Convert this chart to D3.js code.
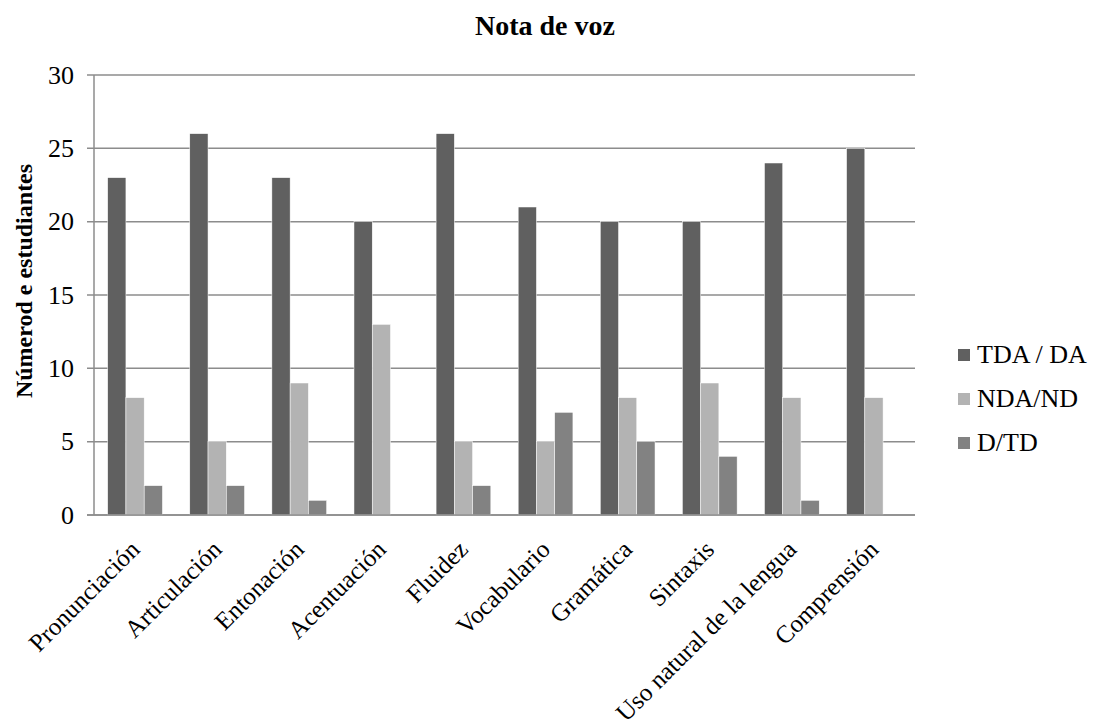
<!DOCTYPE html>
<html><head><meta charset="utf-8">
<script src="https://cdn.jsdelivr.net/npm/d3@7"></script>
<style>body{margin:0;background:#fff}svg{display:block}</style>
</head><body><svg id="c" width="1093" height="724"></svg>
<script>
const categories = ["Pronunciación","Articulación","Entonación","Acentuación","Fluidez","Vocabulario","Gramática","Sintaxis","Uso natural de la lengua","Comprensión"];
const seriesNames = ["TDA / DA","NDA/ND","D/TD"];
const tdaValues = [23,26,23,20,26,21,20,20,24,25];
const ndaValues = [8,5,9,13,5,5,8,9,8,8];
const dtdValues = [2,2,1,0,2,7,5,4,1,0];
const yTicks = [0,5,10,15,20,25,30];
const colors = ["#606060","#b3b3b3","#828282"];
const seriesValues = [tdaValues, ndaValues, dtdValues];
const FONT = "'Times New Roman', 'Liberation Serif', 'DejaVu Serif', serif";

const svg = d3.select("#c").attr("font-family", FONT);
const m = {l:94, r:915, t:75, b:515};
const x = d3.scaleBand().domain(categories).range([m.l, m.r]).paddingInner(0).paddingOuter(0);
const y = d3.scaleLinear().domain([0,30]).range([m.b, m.t]);
const bw = x.bandwidth()/4.5;
const xs = d3.scaleBand().domain(seriesNames).range([0.75*bw, 3.75*bw]);

svg.append("g").selectAll("line").data(yTicks).join("line")
  .attr("x1", m.l-7).attr("x2", m.r).attr("y1", d=>y(d)).attr("y2", d=>y(d))
  .attr("stroke","#8c8c8c").attr("stroke-width",1.5);
svg.append("line").attr("x1",m.l).attr("x2",m.l).attr("y1",m.t).attr("y2",m.b).attr("stroke","#8c8c8c").attr("stroke-width",1.5);

seriesNames.forEach((s,si)=>{
  svg.append("g").selectAll("rect").data(categories).join("rect")
    .attr("x", c=>x(c)+xs(s)).attr("width", xs.bandwidth())
    .attr("y", (c,i)=>y(seriesValues[si][i])).attr("height",(c,i)=>y(0)-y(seriesValues[si][i]))
    .attr("fill", colors[si]).attr("stroke","#fff").attr("stroke-width",0.5);
});
svg.append("line").attr("x1",m.l-7).attr("x2",m.r).attr("y1",m.b).attr("y2",m.b).attr("stroke","#8c8c8c").attr("stroke-width",1.5);

svg.append("g").selectAll("text").data(yTicks).join("text")
  .attr("font-family", FONT)
  .attr("x", 74).attr("y", d=>y(d)).attr("dy","0.33em").attr("text-anchor","end")
  .attr("font-size",26).text(d=>d);

svg.append("g").selectAll("text").data(categories).join("text")
  .attr("font-family", FONT)
  .attr("transform", c=>`translate(${x(c)+x.bandwidth()/2+6},${m.b+36}) rotate(-45)`)
  .attr("text-anchor","end").attr("font-size",25).text(c=>c);

svg.append("text").attr("font-family", FONT).attr("x",545).attr("y",35).attr("text-anchor","middle").attr("font-size",28).attr("font-weight","bold").text("Nota de voz");
svg.append("text").attr("font-family", FONT).attr("transform","translate(32,281) rotate(-90)").attr("text-anchor","middle").attr("font-size",24).attr("font-weight","bold").text("Númerod e estudiantes");

const lg = svg.append("g").selectAll("g").data(seriesNames).join("g")
  .attr("transform",(d,i)=>`translate(958,${363+i*44})`);
lg.append("rect").attr("x",0).attr("y",-14).attr("width",12).attr("height",12).attr("fill",(d,i)=>colors[i]);
lg.append("text").attr("font-family", FONT).attr("x",19).attr("y",0).attr("font-size",26).text(d=>d);
</script></body></html>
